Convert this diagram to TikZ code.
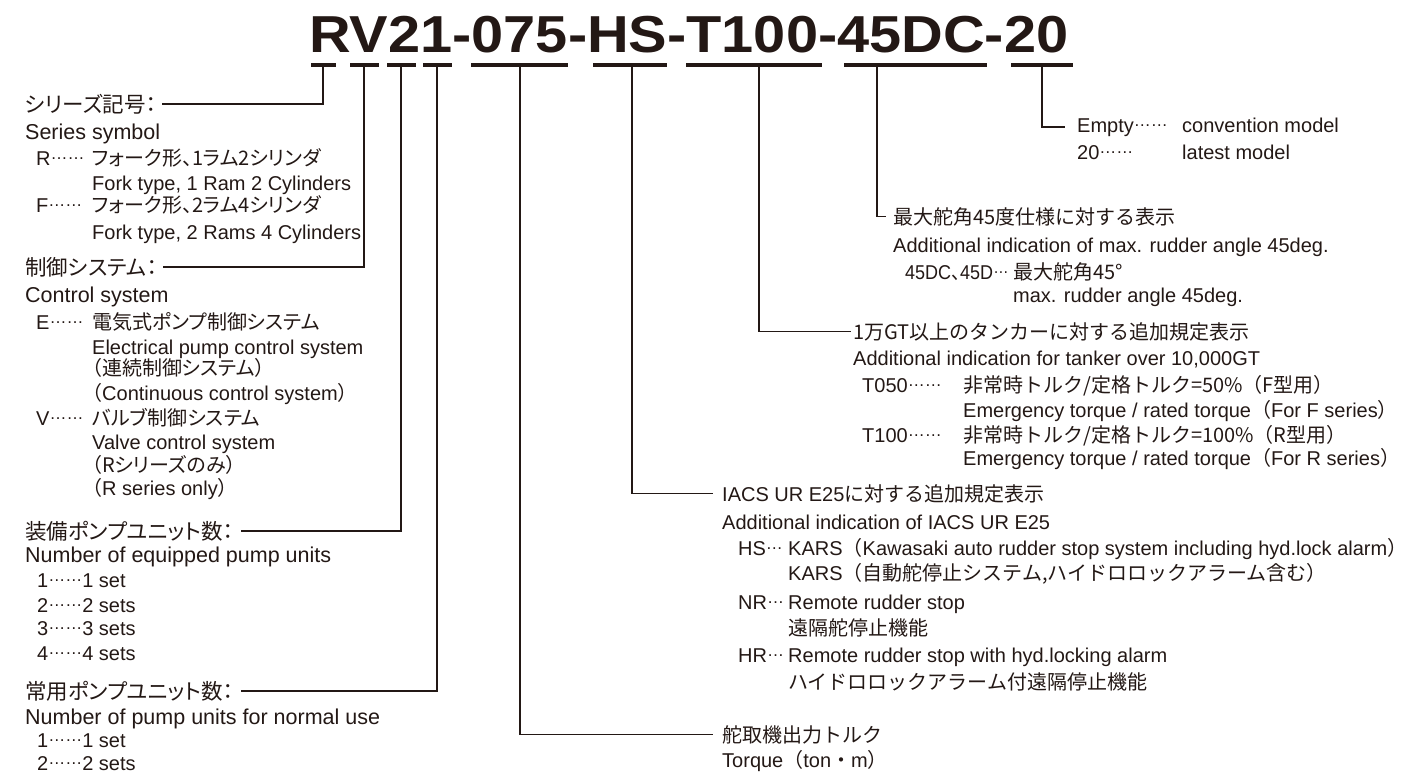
\documentclass[tikz,border=0pt]{standalone}
\usepackage{fontspec}
\usepackage{graphicx}
\setmainfont{Liberation Sans}
\newfontfamily\jpfont{Noto Sans CJK JP}
\newfontfamily\jpnarrow[RawFeature=+palt]{Noto Sans CJK JP}
\newcommand{\jp}[1]{{\jpfont #1}}
\newcommand{\jpl}[1]{{\jpnarrow #1}}
\newcommand{\middots}[1]{\raisebox{5.5pt}{\fontsize{17}{20}\selectfont #1}}
\definecolor{ink}{HTML}{231815}
\tikzset{
  code bar/.style={line width=4pt, draw=ink},
  leader/.style={line width=1.5pt, draw=ink},
  heading/.style={
    anchor=base west,
    inner sep=0pt,
    text=ink,
    font=\fontsize{21.5}{25}\selectfont,
  },
  entry/.style={
    anchor=base west,
    inner sep=0pt,
    text=ink,
    font=\fontsize{20}{24}\selectfont,
  },
}

\begin{document}
\begin{tikzpicture}[x=1pt, y=-1pt]
      \useasboundingbox (0,0) rectangle (1427,780);
      \node[anchor=base west, inner sep=0pt, text=ink, font=\fontsize{52}{58}\selectfont\bfseries] (title) at (309,52) {\scalebox{1.11}[1]{RV21-075-HS-T100-45DC-20}};

      % bars under the code groups
      \foreach \l/\r in {311/336, 350/379, 387/416, 423/452, 471/568, 593/667, 686/822, 844/987, 1011/1073}
        \draw[code bar] (\l,65) -- (\r,65);
      \coordinate (cR) at (323,65);
      \coordinate (cV) at (364,65);
      \coordinate (c2) at (401,65);
      \coordinate (c1) at (437,65);
      \coordinate (c075) at (520,65);
      \coordinate (cHS) at (632,65);
      \coordinate (cT100) at (759,65);
      \coordinate (c45DC) at (877,65);
      \coordinate (c20) at (1042,65);

      % series
      \node[heading] (series) at (25,112) {\jpl{シリーズ記号：}};
      \node[heading] (seriesEn) at (25,139) {Series symbol};
      \node[entry] (codeR) at (36,165) {R\middots{……}};
      \node[entry] (descR) at (92,165) {\jpl{フォーク形、1ラム2シリンダ}};
      \node[entry] (descRen) at (92,190) {Fork type, 1 Ram 2 Cylinders};
      \node[entry] (codeF) at (36,212) {F\middots{……}};
      \node[entry] (descF) at (92,212) {\jpl{フォーク形、2ラム4シリンダ}};
      \node[entry] (descFen) at (92,239) {Fork type, 2 Rams 4 Cylinders};

      % control system
      \node[heading] (control) at (25,275) {\jpl{制御システム：}};
      \node[heading] (controlEn) at (25,302) {Control system};
      \node[entry] (codeE) at (36,329) {E\middots{……}};
      \node[entry] (descE) at (92,329) {\jpl{電気式ポンプ制御システム}};
      \node[entry] (descEen) at (92,354) {Electrical pump control system};
      \node[entry] (descEb) at (92,375) {\jpl{（連続制御システム）}};
      \node[entry] (descEben) at (92,400) {\jpl{（}Continuous control system\jpl{）}};
      \node[entry] (codeV) at (36,425) {V\middots{……}};
      \node[entry] (descV) at (92,425) {\jpl{バルブ制御システム}};
      \node[entry] (descVen) at (92,449) {Valve control system};
      \node[entry] (descVb) at (92,472) {\jpl{（Rシリーズのみ）}};
      \node[entry] (descVben) at (92,495) {\jpl{（}R series only\jpl{）}};

      % pump units
      \node[heading] (equipped) at (25,539) {\jpl{装備ポンプユニット数：}};
      \node[heading] (equippedEn) at (25,562) {Number of equipped pump units};
      \node[entry] (eq1) at (37,587) {1\middots{……}1 set};
      \node[entry] (eq2) at (37,612) {2\middots{……}2 sets};
      \node[entry] (eq3) at (37,635) {3\middots{……}3 sets};
      \node[entry] (eq4) at (37,660) {4\middots{……}4 sets};
      \node[heading] (normal) at (25,699) {\jpl{常用ポンプユニット数：}};
      \node[heading] (normalEn) at (25,724) {Number of pump units for normal use};
      \node[entry] (no1) at (37,747) {1\middots{……}1 set};
      \node[entry] (no2) at (37,770) {2\middots{……}2 sets};

      % torque
      \node[entry] (torque) at (722,742) {\jp{舵取機出力トルク}};
      \node[entry] (torqueEn) at (722,767) {Torque\jp{（}ton\jp{・}m\jp{）}};

      % IACS UR E25
      \node[entry] (iacs) at (722,501) {IACS UR E25\jp{に対する追加規定表示}};
      \node[entry] (iacsEn) at (722,529) {Additional indication of IACS UR E25};
      \node[entry] (codeHS) at (738,555) {HS\middots{…}};
      \node[entry] (descHS) at (788,555) {KARS\jp{（}Kawasaki auto rudder stop system including hyd.lock alarm\jp{）}};
      \node[entry] (descHSjp) at (788,580) {KARS\jp{（自動舵停止システム,ハイドロロックアラーム含む）}};
      \node[entry] (codeNR) at (738,609) {NR\middots{…}};
      \node[entry] (descNR) at (788,609) {Remote rudder stop};
      \node[entry] (descNRjp) at (788,635) {\jp{遠隔舵停止機能}};
      \node[entry] (codeHR) at (738,662) {HR\middots{…}};
      \node[entry] (descHR) at (788,662) {Remote rudder stop with hyd.locking alarm};
      \node[entry] (descHRjp) at (788,689) {\jp{ハイドロロックアラーム付遠隔停止機能}};

      % tanker
      \node[entry] (tanker) at (853,339) {\jp{1万GT以上のタンカーに対する追加規定表示}};
      \node[entry] (tankerEn) at (853,365) {Additional indication for tanker over 10,000GT};
      \node[entry] (codeT050) at (862,392) {T050\middots{……}};
      \node[entry] (descT050) at (963,392) {\jp{非常時トルク/定格トルク=50\%（F型用）}};
      \node[entry] (descT050en) at (963,417) {Emergency torque / rated torque\jp{（}For F series\jp{）}};
      \node[entry] (codeT100) at (862,442) {T100\middots{……}};
      \node[entry] (descT100) at (963,442) {\jp{非常時トルク/定格トルク=100\%（R型用）}};
      \node[entry] (descT100en) at (963,465) {Emergency torque / rated torque\jp{（}For R series\jp{）}};

      % rudder angle
      \node[entry] (maxAngle) at (893,224) {\jp{最大舵角45度仕様に対する表示}};
      \node[entry] (maxAngleEn) at (893,252) {Additional indication of max. rudder angle 45deg.};
      \node[entry] (code45) at (905,279) {\scalebox{0.9}[1]{45DC\jpl{、}45D\middots{…}}};
      \node[entry] (desc45) at (1013,279) {\jp{最大舵角45°}};
      \node[entry] (desc45en) at (1013,302) {max. rudder angle 45deg.};

      % model
      \node[entry] (empty) at (1077,132) {Empty\middots{……}};
      \node[entry] (descEmpty) at (1182,132) {convention model};
      \node[entry] (code20) at (1077,159) {20\middots{……}};
      \node[entry] (desc20) at (1182,159) {latest model};

      \draw[leader] (cR) |- ([xshift=5pt]series.east);
      \draw[leader] (cV) |- ([xshift=6pt]control.east);
      \draw[leader] (c2) |- ([xshift=7pt]equipped.east);
      \draw[leader] (c1) |- ([xshift=7pt]normal.east);
      \draw[leader] (c075) |- ([xshift=-9pt]torque.west);
      \draw[leader] (cHS) |- ([xshift=-9pt]iacs.west);
      \draw[leader] (cT100) |- ([xshift=-2pt]tanker.west);
      \draw[leader] (c45DC) |- ([xshift=-7pt]maxAngle.west);
      \draw[leader] (c20) |- ([xshift=-12pt]empty.west);
    \end{tikzpicture}
\end{document}
